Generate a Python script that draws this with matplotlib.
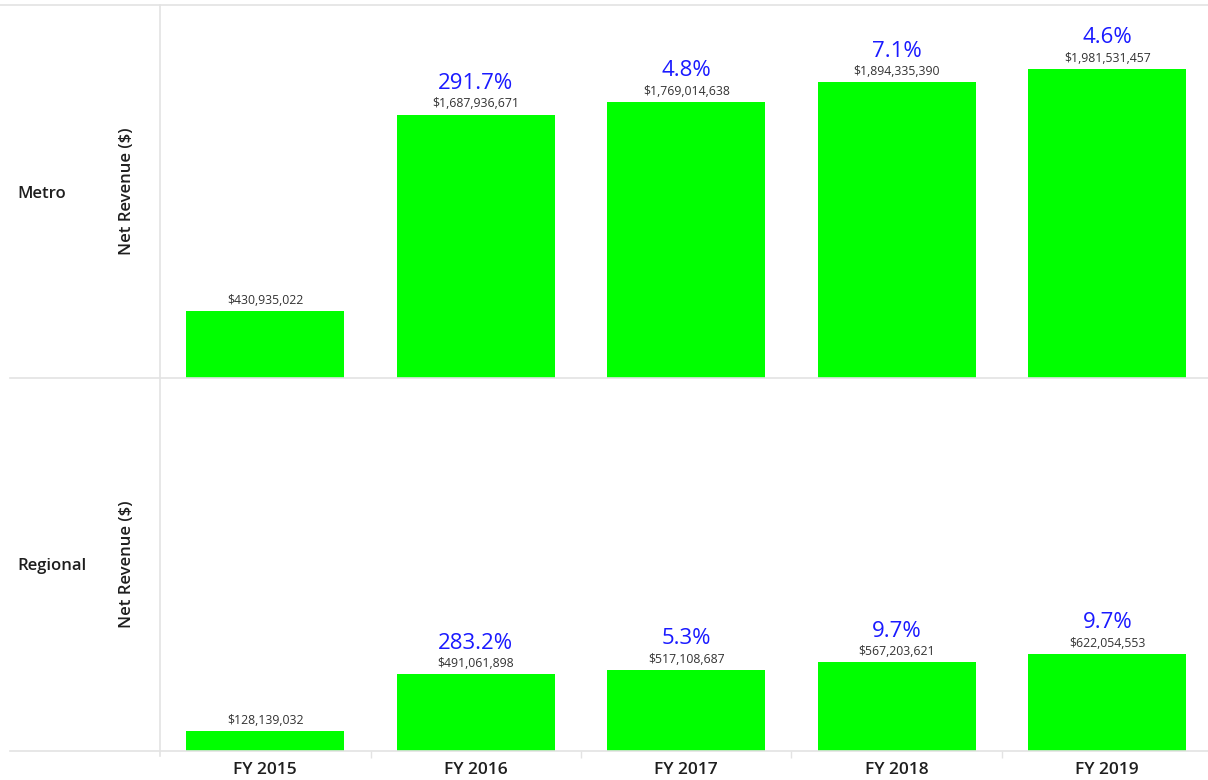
import matplotlib
matplotlib.use("Agg")
import matplotlib.pyplot as plt
from matplotlib.lines import Line2D

plt.rcParams['font.family'] = ['Open Sans', 'DejaVu Sans']

years = ["FY 2015", "FY 2016", "FY 2017", "FY 2018", "FY 2019"]
segments = ["Metro", "Regional"]
metro_rev = [430935022, 1687936671, 1769014638, 1894335390, 1981531457]
regional_rev = [128139032, 491061898, 517108687, 567203621, 622054553]
metro_pct = [None, 291.7, 4.8, 7.1, 4.6]
regional_pct = [None, 283.2, 5.3, 9.7, 9.7]

W, H = 1208, 780
fig = plt.figure(figsize=(W / 100, H / 100), dpi=100)
fig.patch.set_facecolor('white')

def fx(px):
    return px / W

def fy(py):
    return 1 - py / H

grid_c = '#e3e3e3'
txt_c = '#1e1e1e'
ymax = 2.39e9
panels = [(5, 378, metro_rev, metro_pct), (378, 751, regional_rev, regional_pct)]
x = list(range(len(years)))

for i, (top, bot, rev, pct) in enumerate(panels):
    ax = fig.add_axes([fx(160), fy(bot), 1052.5 / W, (bot - top) / H])
    ax.set_xlim(-0.5, 4.5)
    ax.set_ylim(0, ymax)
    ax.bar(x, rev, width=0.75, color='#00ff00', zorder=2)
    for s in ax.spines.values():
        s.set_visible(False)
    ax.set_yticks([])
    ax.patch.set_alpha(0)
    for xi, v, p in zip(x, rev, pct):
        ax.annotate(f"${v:,.0f}", (xi, v), xytext=(0, 3), textcoords='offset points',
                    ha='center', va='bottom', fontsize=8.8, color='#333333')
        if p is not None:
            ax.annotate(f"{p:.1f}%", (xi, v), xytext=(0, 15), textcoords='offset points',
                        ha='center', va='bottom', fontsize=16, color='#1a1aff')
    if i == 1:
        ax.set_xticks(x)
        ax.set_xticklabels(years, fontsize=12.5, fontweight='semibold', color=txt_c)
        ax.tick_params(axis='x', length=0, pad=8)
        ax.set_xticks([-0.5 + k for k in range(1, 5)], minor=True)
        ax.tick_params(axis='x', which='minor', length=5, color=grid_c, width=1)
    else:
        ax.set_xticks([])
    mid = (top + bot) / 2
    fig.text(fx(17), fy(mid + 2), segments[i], ha='left', va='center', fontsize=12,
             fontweight='semibold', color=txt_c)
    fig.text(fx(127), fy(mid), "Net Revenue ($)", ha='center', va='center', fontsize=12,
             fontweight='semibold', rotation=90, color=txt_c)

fig.add_artist(Line2D([0, 1], [fy(5), fy(5)], color=grid_c, lw=1.2, transform=fig.transFigure))
fig.add_artist(Line2D([fx(10), 1], [fy(378), fy(378)], color=grid_c, lw=1.2, transform=fig.transFigure))
fig.add_artist(Line2D([fx(10), 1], [fy(751), fy(751)], color=grid_c, lw=1.2, transform=fig.transFigure))
fig.add_artist(Line2D([fx(160), fx(160)], [fy(5), fy(756)], color=grid_c, lw=1.2, transform=fig.transFigure))

fig.savefig("out.png", dpi=100, facecolor='white')
